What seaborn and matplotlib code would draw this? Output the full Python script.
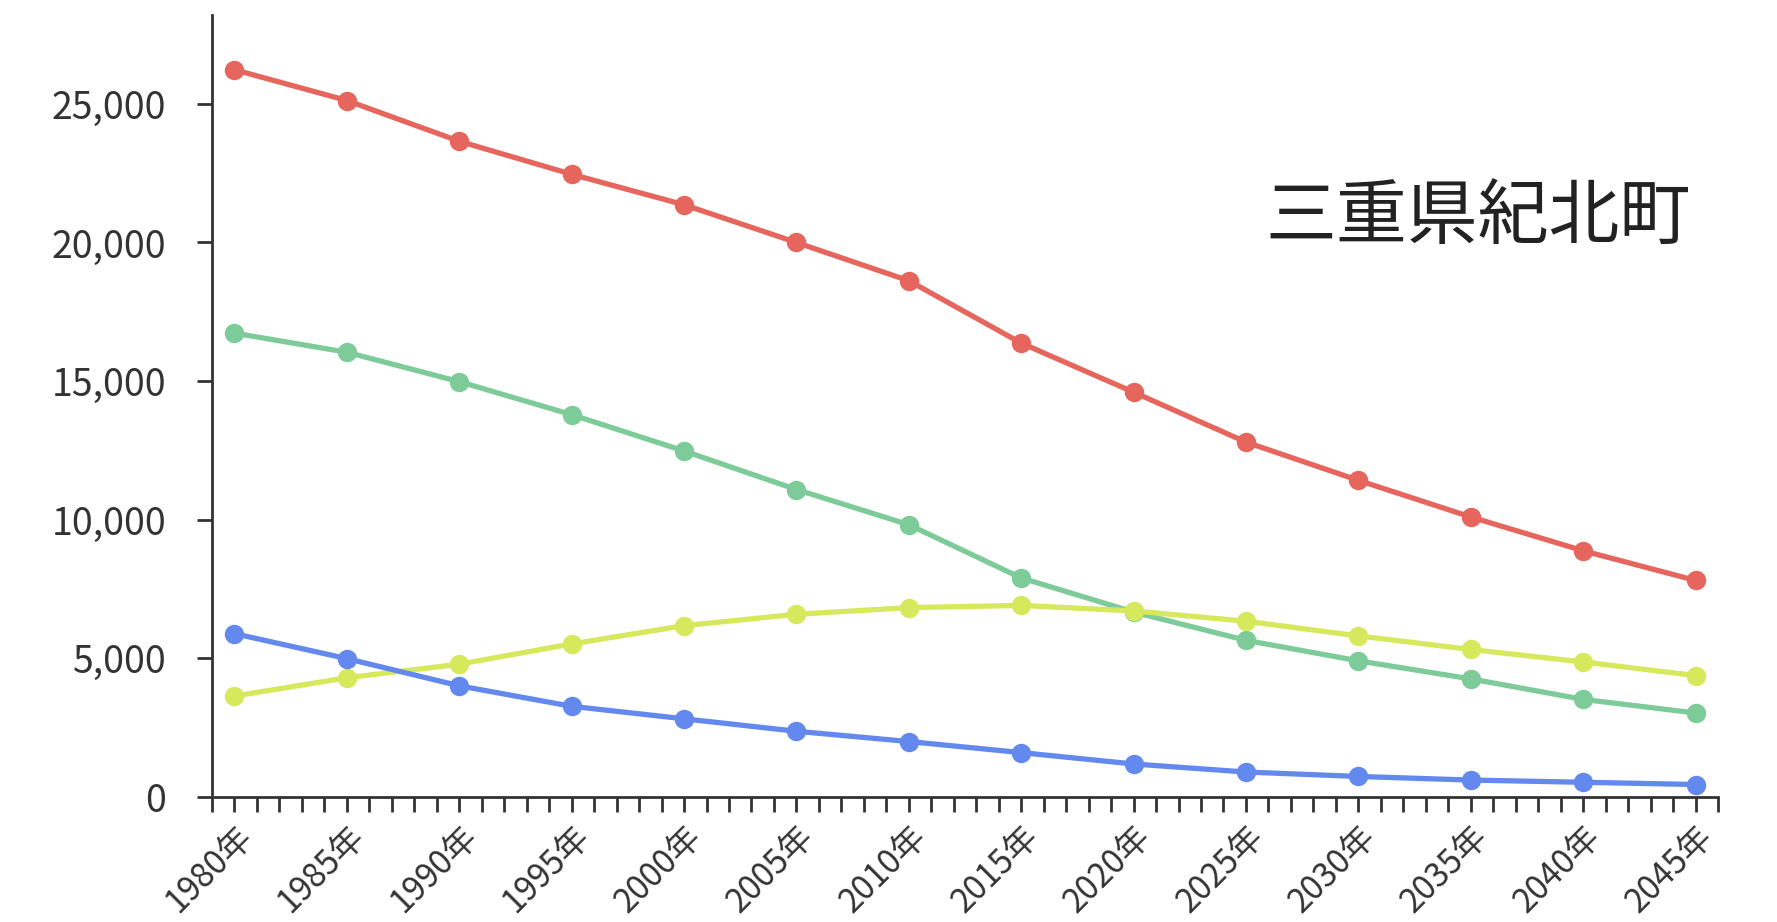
import numpy as np
import pandas as pd
import matplotlib
matplotlib.use("Agg")
import matplotlib.pyplot as plt
import seaborn as sns

# population by year
years = [1980, 1985, 1990, 1995, 2000, 2005, 2010, 2015, 2020, 2025, 2030, 2035, 2040, 2045]
total = [26230, 25120, 23650, 22460, 21360, 20000, 18620, 16370, 14600, 12800, 11420, 10100, 8880, 7810]
working = [16730, 16040, 14980, 13790, 12480, 11090, 9820, 7900, 6670, 5650, 4910, 4260, 3520, 3030]
elderly = [3640, 4300, 4790, 5520, 6180, 6590, 6830, 6910, 6710, 6340, 5810, 5320, 4870, 4380]
young = [5890, 4990, 4010, 3270, 2820, 2370, 2000, 1600, 1190, 900, 740, 610, 530, 450]

series_names = ["総人口", "生産年齢人口", "老年人口", "年少人口"]
series_colors = ["#e6655c", "#7dcb98", "#d6e95c", "#6389ee"]

y_ticks = [0, 5000, 10000, 15000, 20000, 25000]
y_ticklabels = ["0", "5,000", "10,000", "15,000", "20,000", "25,000"]
x_ticklabels = [f"{y}年" for y in years]
title = "三重県紀北町"

df = pd.DataFrame({"year": years, series_names[0]: total, series_names[1]: working,
                   series_names[2]: elderly, series_names[3]: young})
long = df.melt(id_vars="year", var_name="series", value_name="pop")

sns.set_style("white")
plt.rcParams['font.family'] = ['Noto Sans CJK JP', 'DejaVu Sans']

fig = plt.figure(figsize=(17.77, 9.22), dpi=100)
ax = fig.add_axes([0.1193, 0.1356, 0.8475, 0.848])

sns.lineplot(data=long, x="year", y="pop", hue="series", hue_order=series_names,
             palette=series_colors, marker="o", markersize=14, markeredgewidth=0,
             linewidth=3.8, legend=False, ax=ax)

ax.set_xlim(1979, 2046)
ax.set_ylim(0, 28200)
ax.set_xticks(years)
ax.set_xticks(np.arange(1979, 2047), minor=True)
ax.set_xticklabels(x_ticklabels, rotation=45, ha="right", rotation_mode="anchor",
                   fontsize=24, color="#333333")
ax.set_yticks(y_ticks)
ax.set_yticklabels(y_ticklabels, fontsize=27, color="#333333")
ax.set_xlabel("")
ax.set_ylabel("")

for s in ["top", "right"]:
    ax.spines[s].set_visible(False)
for s in ["left", "bottom"]:
    ax.spines[s].set_color("#333333")
    ax.spines[s].set_linewidth(2)

ax.tick_params(axis="x", which="both", direction="out", length=11, width=2,
               color="#333333", bottom=True, pad=5)
ax.tick_params(axis="y", which="major", direction="out", length=11, width=2,
               color="#333333", left=True, pad=22)

fig.text(0.9516, 0.764, title, fontsize=51, ha="right", va="center", color="#222222")

fig.savefig("out.png", dpi=100, facecolor="white")
